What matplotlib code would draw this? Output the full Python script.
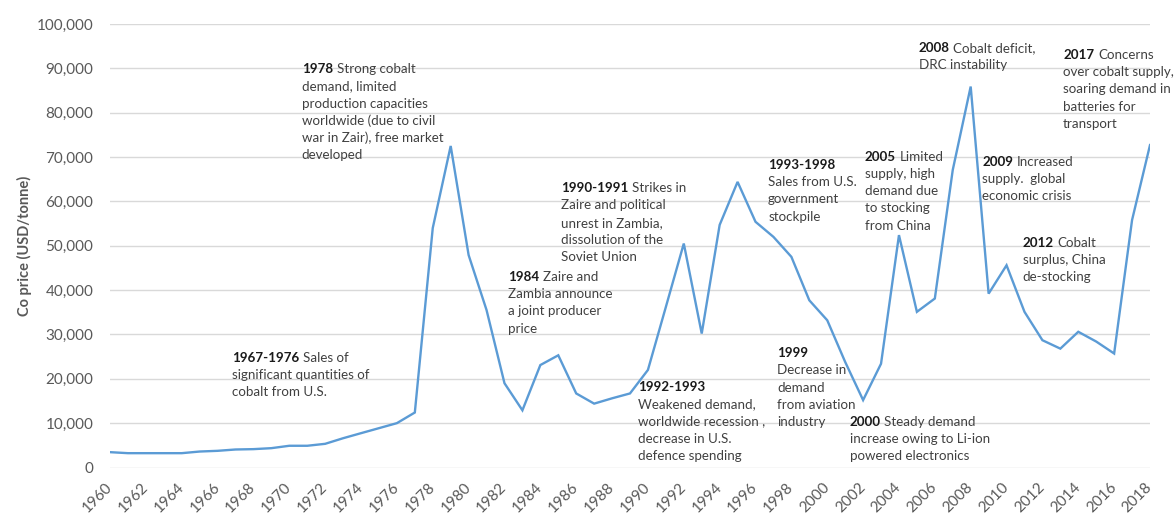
import matplotlib
matplotlib.use('Agg')
import matplotlib.pyplot as plt
from matplotlib.ticker import FuncFormatter, MultipleLocator

plt.rcParams['font.family'] = ['Lato', 'DejaVu Sans']

# ---- data ----
years = list(range(1960, 2019))
prices = [3460, 3230, 3230, 3230, 3230, 3600, 3760, 4060, 4140, 4360,
          4900, 4900, 5340, 6600, 7740, 8870, 10000, 12400, 54000, 72500,
          47900, 35500, 19000, 12900, 23100, 25300, 16700, 14400, 15600, 16700,
          22000, 36200, 50500, 30200, 54700, 64400, 55400, 52000, 47500, 37700,
          33200, 23800, 15200, 23400, 52400, 35100, 38100, 67100, 85900, 39200,
          45600, 35100, 28700, 26800, 30600, 28400, 25700, 55800, 72700]

tick_years = list(range(1960, 2019, 2))

note_heads = ["1978", "1967-1976", "1984", "1990-1991", "1992-1993", "1993-1998",
              "1999", "2000", "2005", "2008", "2009", "2012", "2017"]
note_rests = ["Strong cobalt", "Sales of", "Zaire and", "Strikes in", "", "",
              "", "Steady demand", "Limited", "Cobalt deficit,", "Increased",
              "Cobalt", "Concerns"]
note_lines = [
    ["demand, limited", "production capacities", "worldwide (due to civil",
     "war in Zair), free market", "developed"],
    ["significant quantities of", "cobalt from U.S."],
    ["Zambia announce", "a joint producer", "price"],
    ["Zaire and political", "unrest in Zambia,", "dissolution of the", "Soviet Union"],
    ["Weakened demand,", "worldwide recession ,", "decrease in U.S.", "defence spending"],
    ["Sales from U.S.", "government", "stockpile"],
    ["Decrease in", "demand", "from aviation", "industry"],
    ["increase owing to Li-ion", "powered electronics"],
    ["supply, high", "demand due", "to stocking", "from China"],
    ["DRC instability"],
    ["supply.  global", "economic crisis"],
    ["surplus, China", "de-stocking"],
    ["over cobalt supply,", "soaring demand in", "batteries for", "transport"],
]
# anchor of each note (year, price) = left / first-line centre
note_x = [1970.7, 1966.8, 1982.2, 1985.15, 1989.45, 1996.7, 1997.2, 2001.25,
          2002.1, 2005.1, 2008.65, 2010.9, 2013.15]
note_y = [90000, 24980, 43180, 63180, 18380, 68430, 25980, 10550,
          70300, 94880, 69180, 50910, 93240]

# ---- figure ----
fig = plt.figure(figsize=(11.74, 5.2), dpi=100)
ax = fig.add_axes([110 / 1174, 52.5 / 520, 1040 / 1174, 443.5 / 520])

ax.plot(years, prices, color='#5b9bd5', lw=1.7, solid_joinstyle='miter', zorder=3)

ax.set_xlim(1960, 2018)
ax.set_ylim(0, 100000)
ax.yaxis.set_major_locator(MultipleLocator(10000))
ax.yaxis.set_major_formatter(FuncFormatter(lambda v, p: f"{int(v):,}"))
ax.set_xticks(tick_years)
ax.set_xticklabels([str(y) for y in tick_years], rotation=45, ha='right',
                   va='center', rotation_mode='anchor')
ax.grid(axis='y', color='#d9d9d9', lw=1.0, zorder=0)
ax.set_axisbelow(True)
for s in ax.spines.values():
    s.set_visible(False)
ax.tick_params(axis='both', length=0, labelsize=11, labelcolor='#595959')
ax.tick_params(axis='y', pad=12)
ax.tick_params(axis='x', pad=13)

ax.set_ylabel('Co price (USD/tonne)', fontsize=10.5, fontweight='bold', color='#595959')
ax.yaxis.set_label_coords(-0.075, 0.5)


def note(x, y, head, rest, lines, size, pitch):
    t = ax.annotate(head, xy=(x, y), xycoords='data', fontsize=size,
                    fontweight='bold', color='#1a1a1a', va='center_baseline',
                    ha='left', zorder=4)
    if rest:
        ax.annotate(rest, xy=(1, 0), xycoords=t, xytext=(size * 0.28, 0),
                    textcoords='offset points', va='bottom', ha='left',
                    fontsize=size, color='#404040', zorder=4)
    for i, ln in enumerate(lines, 1):
        ax.annotate(ln, xy=(x, y), xycoords='data', xytext=(0, -i * pitch),
                    textcoords='offset pixels', va='center_baseline', ha='left',
                    fontsize=size, color='#404040', zorder=4)


for i in range(len(note_heads)):
    note(note_x[i], note_y[i], note_heads[i], note_rests[i], note_lines[i], 9.6, 17.2)

fig.savefig('out.png', dpi=100)
